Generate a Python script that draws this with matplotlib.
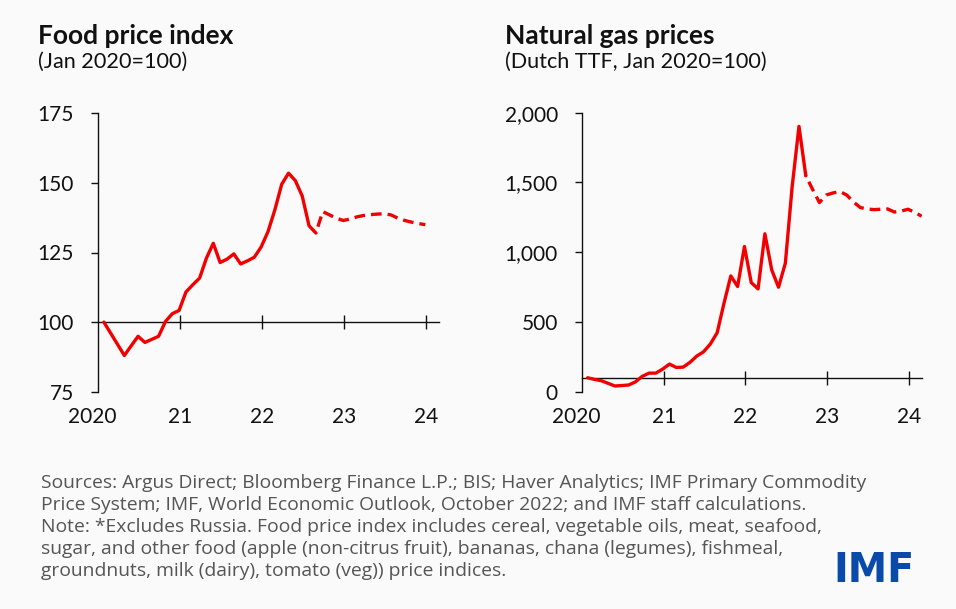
import numpy as np
import matplotlib
matplotlib.use("Agg")
import matplotlib.pyplot as plt

# ---------------- data ----------------
# month index 0 = Jan 2020
food_actual = [100, 96, 92, 88, 91.5, 94.9, 92.7, 93.8, 94.9, 100.2, 103, 104.2,
               110.8, 113.4, 115.8, 123, 128.3, 121.4, 122.6, 124.5, 120.9, 122, 123.3, 127,
               132.5, 140.3, 149.5, 153.5, 150.8, 145.3, 134.6, 132]
food_proj = [132, 139.7, 138.5, 137.3, 136.5, 137, 137.8, 138.3, 138.6, 138.8, 138.9,
             138.5, 137.3, 136.5, 135.9, 135.4, 135.0]
gas_actual = [100, 88, 79, 60, 41, 44, 48, 70, 110, 133, 133, 162,
              198, 174, 176, 210, 255, 286, 342, 423, 634, 830, 754, 1041,
              782, 737, 1132, 873, 749, 921, 1471, 1902, 1548]
gas_proj = [1548, 1450, 1356, 1410, 1425, 1435, 1410, 1360, 1320, 1310, 1305, 1308,
            1310, 1288, 1295, 1308, 1285, 1258]
year_labels = ["2020", "21", "22", "23", "24"]
food_yticks = [75, 100, 125, 150, 175]
gas_yticks = [0, 500, 1000, 1500, 2000]
titles = ["Food price index", "Natural gas prices"]
subtitles = ["(Jan 2020=100)", "(Dutch TTF, Jan 2020=100)"]
footnote_lines = [
    "Sources: Argus Direct; Bloomberg Finance L.P.; BIS; Haver Analytics; IMF Primary Commodity",
    "Price System; IMF, World Economic Outlook, October 2022; and IMF staff calculations.",
    "Note: *Excludes Russia. Food price index includes cereal, vegetable oils, meat, seafood,",
    "sugar, and other food (apple (non-citrus fruit), bananas, chana (legumes), fishmeal,",
    "groundnuts, milk (dairy), tomato (veg)) price indices.",
]

RED = "#f20000"
BG = "#fafafa"
INK = "#111111"
FONT = "Lato"
plt.rcParams['font.family'] = [FONT, 'DejaVu Sans']

fig = plt.figure(figsize=(9.56, 6.09), dpi=100, facecolor=BG)

W, H = 956, 609
def px_axes(x0, x1, ytop, ybot):
    return fig.add_axes([x0 / W, 1 - ybot / H, (x1 - x0) / W, (ybot - ytop) / H])

axL = px_axes(97.7, 439, 113.3, 391.7)
axR = px_axes(581.5, 921.7, 112.7, 391.7)

tick_pos = [12 * k - 0.85 for k in range(5)]

def style(ax, actual, proj, yticks, ylabels, ylim):
    ax.set_facecolor(BG)
    m_act = np.arange(len(actual))
    m_proj = np.arange(len(actual) - 1, len(actual) - 1 + len(proj))
    ax.plot(m_act, actual, color=RED, lw=2.4, solid_joinstyle='round', solid_capstyle='round', zorder=3)
    ax.plot(m_proj, proj, color=RED, lw=2.4, linestyle=(3.0, (3.2, 1.8)), dash_capstyle='butt', zorder=3)
    ax.set_xlim(-0.9, 49)
    ax.set_ylim(*ylim)
    for s in ['top', 'right']:
        ax.spines[s].set_visible(False)
    ax.spines['left'].set_linewidth(1.0)
    ax.spines['left'].set_color(INK)
    ax.spines['bottom'].set_position(('data', 100))
    ax.spines['bottom'].set_linewidth(1.0)
    ax.spines['bottom'].set_color(INK)
    ax.set_yticks(yticks)
    ax.set_yticklabels(ylabels)
    ax.tick_params(axis='y', direction='out', length=5, width=1.0, pad=12,
                   labelsize=15, colors=INK)
    ax.set_xticks(tick_pos[1:])
    ax.tick_params(axis='x', direction='inout', length=9.5, width=1.0, labelbottom=False,
                   colors=INK)
    for i, (p, lab) in enumerate(zip(tick_pos, year_labels)):
        dx = -4 if i == 0 else 0
        ax.annotate(lab, xy=(p, 0), xycoords=('data', 'axes fraction'),
                    xytext=(dx, -11), textcoords='offset points', ha='center', va='top',
                    fontsize=15, color=INK, annotation_clip=False)

style(axL, food_actual, food_proj, food_yticks, [str(v) for v in food_yticks], (75, 175))
style(axR, gas_actual, gas_proj, gas_yticks, [f"{v:,}" for v in gas_yticks], (0, 2000))

# titles
for x, t, st in [(38, titles[0], subtitles[0]), (505, titles[1], subtitles[1])]:
    fig.text(x / W, 1 - 43.5 / H, t, fontsize=19, fontweight='bold', color=INK,
             ha='left', va='baseline')
    fig.text(x / W, 1 - 67.5 / H, st, fontsize=15.6, color=INK, ha='left', va='baseline')

for i, line in enumerate(footnote_lines):
    fig.text(41 / W, 1 - (488 + 22 * i) / H, line, fontsize=13.9, color='#555555',
             ha='left', va='baseline', family=['Open Sans', 'DejaVu Sans'])

fig.text(915 / W, 1 - 582.5 / H, "IMF", fontsize=28.5, fontweight='bold', color='#0a4aa8',
         ha='right', va='baseline', family=['DejaVu Sans'])

fig.savefig("out.png", dpi=100, facecolor=BG)
